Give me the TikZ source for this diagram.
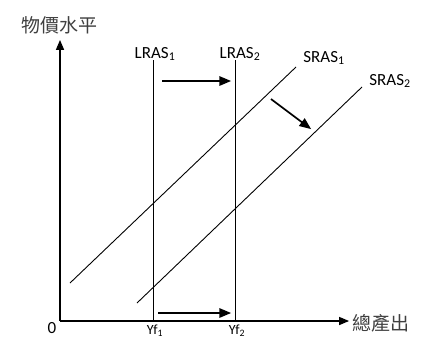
\documentclass[tikz,border=0pt]{standalone}
\usepackage{fontspec}
\setmainfont{Carlito}
\newfontfamily\cjk{Noto Sans CJK TC}
\usetikzlibrary{arrows}

\tikzset{
  axis/.style = {line width = 1.3pt},
  curve/.style = {line width = .9pt},
  moveArrow/.style = {-triangle 45, line width = 1.7pt},
  lbl/.style = {font = \fontsize{17}{20}\selectfont, anchor = base, inner sep = 0pt}
}

\begin{document}
\begin{tikzpicture}[x = 1pt, y = -1pt]
\useasboundingbox (0,0) rectangle (427,338);
% axes
\coordinate (o) at (60,321);
\coordinate (ytip) at (60,40);
\coordinate (xtip) at (349,321);
\draw[axis, -triangle 45] (o) -- (ytip);
\draw[axis, -triangle 45] (o) -- (xtip);
\node[font = \fontsize{19}{22}\selectfont\cjk, text = black!75] (price) at (59,25) {物價水平};
\node[font = \fontsize{19}{22}\selectfont\cjk, text = black!75, anchor = west, inner sep = 1pt] (output) at (351,323) {總產出};
\node[lbl, anchor = center] (zero) at (52,328) {0};
% long run supply
\coordinate (l1top) at (153,60);
\coordinate (l1bot) at (153,321);
\coordinate (l2top) at (235,60);
\coordinate (l2bot) at (235,321);
\draw[curve] (l1top) -- (l1bot);
\draw[curve] (l2top) -- (l2bot);
\node[lbl] (lras1) at (155,58) {LRAS\textsubscript{1}};
\node[lbl] (lras2) at (240,58) {LRAS\textsubscript{2}};
\node[lbl, font = \fontsize{14}{16}\selectfont] (yf1) at (155,334) {Yf\textsubscript{1}};
\node[lbl, font = \fontsize{14}{16}\selectfont] (yf2) at (237,334) {Yf\textsubscript{2}};
% short run supply
\coordinate (s1a) at (70,283);
\coordinate (s1b) at (296,67);
\coordinate (s2a) at (137,303);
\coordinate (s2b) at (362,87);
\draw[curve] (s1a) -- (s1b);
\draw[curve] (s2a) -- (s2b);
\node[lbl] (sras1) at (324,62) {SRAS\textsubscript{1}};
\node[lbl] (sras2) at (390,85) {SRAS\textsubscript{2}};
% shifts
\coordinate (ta) at (162,81);
\coordinate (tb) at (231,81);
\coordinate (ba) at (158,313);
\coordinate (bb) at (231,313);
\coordinate (da) at (271,99);
\coordinate (db) at (311,129);
\draw[moveArrow] (ta) -- (tb);
\draw[moveArrow] (ba) -- (bb);
\draw[moveArrow] (da) -- (db);
\end{tikzpicture}
\end{document}
